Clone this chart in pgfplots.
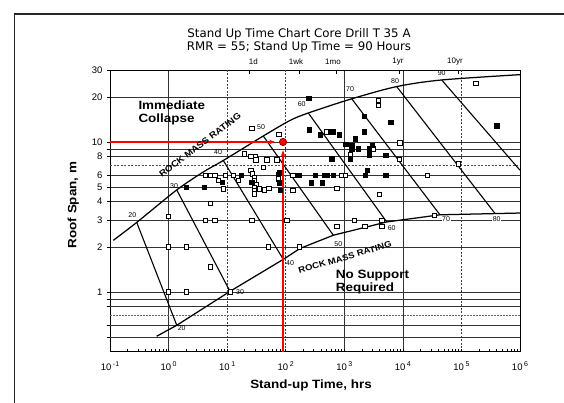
\documentclass[border=0pt]{standalone}
\usepackage{fontspec}
\setmainfont{Liberation Sans}
\newfontfamily\titlefont{DejaVu Sans}
\newfontfamily\widefont[FakeStretch=1.12]{Liberation Sans}
\usepackage{pgfplots}
\pgfplotsset{compat=1.18}
\usetikzlibrary{arrows.meta}
\newcommand{\tl}[1]{10\,\raisebox{0.8ex}{\fontsize{7}{7}\selectfont #1}}

\begin{document}
\begin{tikzpicture}[x=1pt,y=1pt]
\useasboundingbox (0,0) rectangle (564,403);
\draw[line width=1.6pt, black!85] (14.3,-3) -- (14.3,388.7) -- (567,388.7);

\begin{axis}[
  at={(110pt,51.3pt)}, anchor=south west,
  scale only axis, width=410pt, height=281.3pt,
  xmode=log, ymode=log,
  xmin=0.1, xmax=1000000, ymin=0.4, ymax=30,
  axis line style={black, line width=1pt},
  xtick={0.1,1,1000,10000,1000000},
  xticklabels={\tl{-1},\tl{0},\tl{3},\tl{4},\tl{6}},
  extra x ticks={10,100,100000},
  extra x tick labels={\tl{1},\tl{2},\tl{5}},
  extra x tick style={grid=major, major grid style={black!75, line width=0.6pt, dash pattern=on 2pt off 1.5pt}},
  ytick={1,2,3,4,5,6,8,10,20,30},
  yticklabels={1,2,3,4,5,6,8,10,20,30},
  extra y ticks={0.5,0.6,0.8,0.9,9},
  extra y tick labels={},
  extra y tick style={grid=major},
  grid=major,
  major grid style={black!80, line width=0.6pt},
  minor xtick={0.2,0.3,0.4,0.5,0.6,0.7,0.8,0.9,2,3,4,5,6,7,8,9,20,30,40,50,60,70,80,90,200,300,400,500,600,700,800,900,2000,3000,4000,5000,6000,7000,8000,9000,20000,30000,40000,50000,60000,70000,80000,90000,200000,300000,400000,500000,600000,700000,800000,900000},
  xtick pos=left, ytick pos=left,
  xtick align=inside, ytick align=outside,
  major tick length=3pt, minor tick length=2.5pt,
  tick style={black, line width=0.6pt},
  tick label style={font=\fontsize{9.5}{10}\selectfont},
  xticklabel style={yshift=-6pt},
  yticklabel style={xshift=-1pt},
]
% dashed grid lines at 0.7 and 7
\addplot[black!60, line width=0.6pt, dash pattern=on 1.5pt off 1.5pt] coordinates {(0.1,0.7) (1000000,0.7)};
\addplot[black!70, line width=0.6pt, dash pattern=on 2pt off 1.5pt] coordinates {(0.1,7) (1000000,7)};

% upper envelope (immediate collapse)
\addplot[black, line width=1.25pt, smooth] coordinates {(0.114,2.21) (0.286,2.91) (1.38,4.79) (3.92,6.31) (8.6,7.53) (41.4,10.96) (118,13.9) (243,15.6) (1340,19.4) (7850,23.4) (46000,25.9) (1000000,28.1)};
% lower envelope (no support required)
\addplot[black, line width=1.25pt] coordinates {(0.627,0.507) (1.38,0.6) (11.2,1.01) (91,1.65) (175,1.95) (650,2.39) (5300,2.93) (43000,3.27) (1000000,3.36)};
% RMR lines
\addplot[black, line width=1.1pt] coordinates {(0.286,2.91) (1.38,0.6)};
\addplot[black, line width=1.1pt] coordinates {(1.38,4.79) (11.2,1.01)};
\addplot[black, line width=1.1pt] coordinates {(8.6,7.53) (91,1.65)};
\addplot[black, line width=1.1pt] coordinates {(41.4,10.96) (650,2.39)};
\addplot[black, line width=1.1pt] coordinates {(243,15.6) (5300,2.93)};
\addplot[black, line width=1.1pt] coordinates {(1340,19.4) (43000,3.27)};
\addplot[black, line width=1.1pt] coordinates {(7850,23.4) (374000,3.34)};
\addplot[black, line width=1.1pt] coordinates {(46000,25.9) (1000000,6.48)};

% open squares
\addplot[only marks, mark=square*, mark size=2.2pt, mark options={draw=black, fill=white, line width=0.6pt}] coordinates {
(1,3.2) (1,2) (2,2) (1,1) (2,1) (5.1,1.47) (11.2,1) (5.1,3.9) (4.2,3) (6.2,3) (26.3,3) (104,3) (50.5,2) (169,2)
(4.2,6) (5.1,6) (6.2,6) (9.2,6) (12.7,6) (7.06,5.55) (8.6,4.88) (15.5,5.55)
(26.3,12.3) (76.7,11.2) (19.6,8.36) (25.5,8.03) (29.9,8.03) (30.7,7.62) (47.3,7.62) (70.2,7.62) (41.4,6.81)
(25.5,6.48) (26.9,6.15) (29.1,5.84) (29.1,5.55) (30.7,5.23) (29.1,5.0) (29.1,4.76) (29.1,4.52) (35.4,4.88) (51.8,4.93) (42.6,4.81)
(74.7,6.05) (74.7,5.69) (132,6) (132,4.76)
(496,11.7) (3802,19.0) (3802,17.6) (3124,9.02) (1252,8.23) (8933,9.9) (8690,7.67) (903,6) (1029,6) (26120,6) (742,4.93) (3953,4.48)
(88300,7.17) (177000,24.5) (34430,3.25) (742,2.75) (1483,3) (2254,2.75) (4345,3) (4345,2.75)
};
% filled squares
\addplot[only marks, mark=square*, mark size=2.2pt, mark options={draw=black, fill=black}] coordinates {
(2,5) (4.1,5) (17.3,6) (8.2,5.4) (26.3,5.41) (76.7,6.24) (76.7,5.35) (79.8,4.76) (166,6)
(245,19.6) (250,12.1) (385,11.2) (586,11.7) (634,11.7) (822,11.2) (2168,14.9) (6216,13.5) (2168,11.7) (1524,10.5)
(1057,9.7) (1338,9.5) (1338,9.0) (1734,9.0) (2636,9.1) (2636,8.6) (2636,8.2) (3004,9.5) (5081,8.2) (610,7.74) (1252,7.74) (2466,6.48)
(316,6) (457,6) (506,6) (649,6) (2254,6) (5081,6) (270,5.35) (421,5.35) (400000,12.8)
};

% red guide lines
\addplot[red, line width=1.5pt, -{Stealth[length=6pt,width=4.5pt]}] coordinates {(0.1,10) (66,10)};
\addplot[red, line width=1.5pt, -{Stealth[length=6pt,width=4.5pt]}] coordinates {(90,0.4) (90,8.8)};
\addplot[only marks, mark=*, mark size=3.6pt, mark options={fill=red, draw=red!55!black, line width=0.8pt}] coordinates {(90,10)};
\end{axis}

% title
\node[font=\titlefont\fontsize{11.8}{13.5}\selectfont, align=center] at (299,362) {Stand Up Time Chart Core Drill T 35 A\\RMR = 55; Stand Up Time = 90 Hours};
% top time labels
\begin{scope}[font=\fontsize{8}{8}\selectfont]
\node at (253.3,341) {1d};
\node at (296,341) {1wk};
\node at (333,341) {1mo};
\node at (398,341) {1yr};
\node at (455,341) {10yr};
\end{scope}
\foreach \xx in {249.4,298.9,335.9,399.5,458} \draw[black, line width=0.6pt] (\xx,332.6) -- (\xx,328.6);

% axis titles
\node[rotate=90, font=\widefont\bfseries\fontsize{12}{12}\selectfont] at (73.3,198) {Roof Span, m};
\node[font=\widefont\bfseries\fontsize{12}{12}\selectfont] at (311,18) {Stand-up Time, hrs};

% region labels
\node[anchor=west, align=left, inner sep=0pt, font=\widefont\bfseries\fontsize{12}{12.6}\selectfont] at (138.3,290) {Immediate\\Collapse};
\node[anchor=west, align=left, inner sep=0pt, font=\widefont\bfseries\fontsize{12}{12.3}\selectfont] at (335.7,121) {No Support\\Required};
\node[rotate=37.2, font=\widefont\bfseries\fontsize{8.8}{9}\selectfont] at (200,258) {ROCK MASS RATING};
\node[rotate=16.3, font=\widefont\bfseries\fontsize{8.5}{9}\selectfont] at (345,145.5) {ROCK MASS RATING};

% RMR value labels
\begin{scope}[font=\fontsize{7}{7}\selectfont, inner sep=0.6pt]
\node at (132.3,188) {20};
\node at (174,217) {30};
\node at (218,250.5) {40};
\node at (261,275.5) {50};
\node at (301.7,298.7) {60};
\node at (350,313.7) {70};
\node at (395,322.3) {80};
\node at (441.7,329.7) {90};
\node at (181.7,75.3) {20};
\node at (240,111.3) {30};
\node at (290,139.7) {40};
\node at (338.3,158.7) {50};
\node at (391.7,174.7) {60};
\node[fill=white] at (446,184) {70};
\node[fill=white] at (496.7,184) {80};
\end{scope}
\end{tikzpicture}
\end{document}
